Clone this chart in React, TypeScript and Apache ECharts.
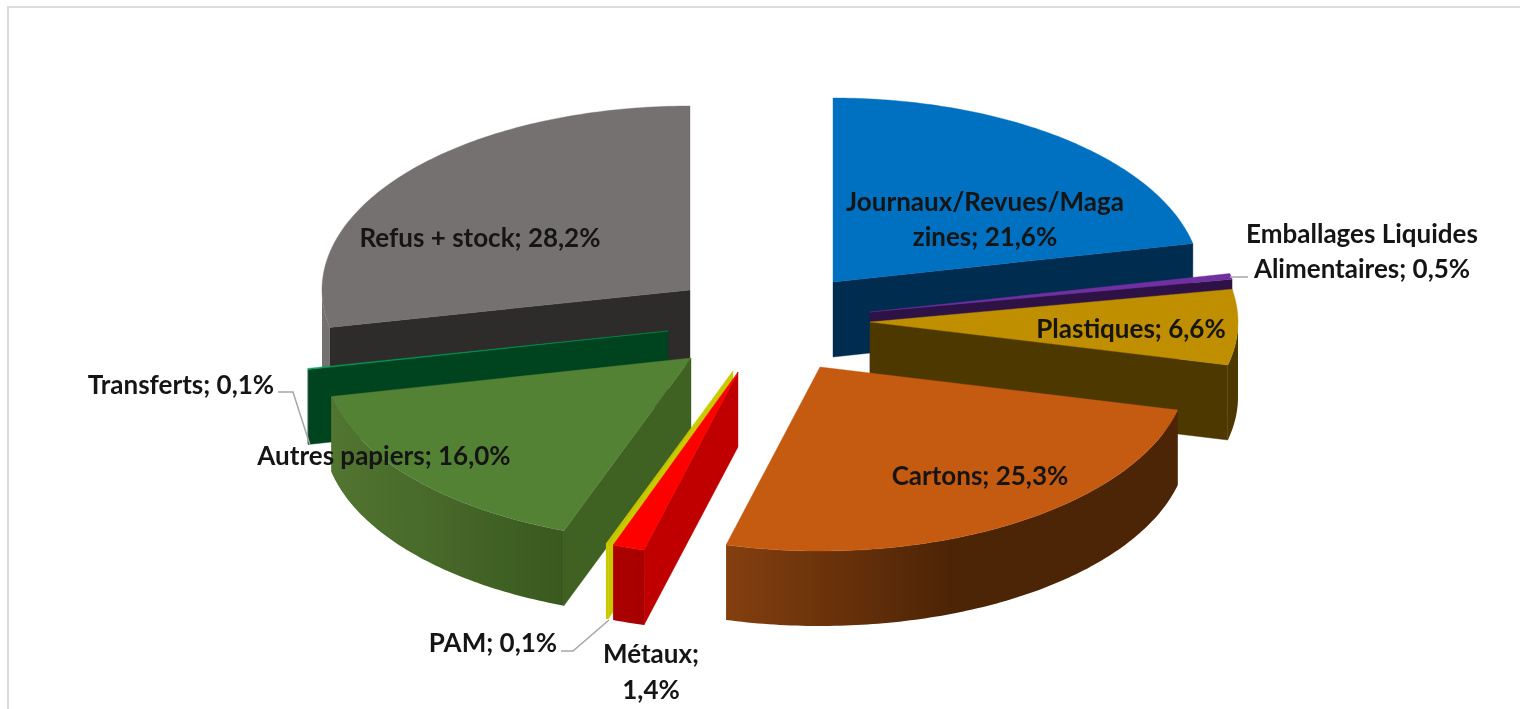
import React, { useEffect, useRef } from "react";
import * as echarts from "echarts";

const categories = [
  "Journaux/Revues/Magazines",
  "Emballages Liquides Alimentaires",
  "Plastiques",
  "Cartons",
  "Métaux",
  "PAM",
  "Autres papiers",
  "Transferts",
  "Refus + stock",
];
const shares = [21.6, 0.5, 6.6, 25.3, 1.4, 0.1, 16.0, 0.1, 28.2];

// layout: exploded centre of each slice, top-face colour, cut-face colour, outer wall gradient
const centres = [[833, 282], [870, 312], [870, 322], [820, 367], [738, 372], [733, 371], [691, 358], [668, 331], [690, 290]];
const topColours = ["#0070c0", "#7030a0", "#bf8f00", "#c55a11", "#ff0000", "#c9c900", "#548235", "#00a05a", "#767171"];
const cutColours = ["#002c4f", "#2e1245", "#4d3800", "#4f2506", "#c00000", "#c9c900", "#3f6122", "#00431f", "#2e2b2b"];
const wallStops = [
  ["#00345c", "#002c4f"],
  ["#2e1245", "#2e1245"],
  ["#4d3800", "#4d3800"],
  ["#843f0f", "#4c2406"],
  ["#aa0000", "#a80000"],
  ["#c9c900", "#c9c900"],
  ["#527531", "#39591f"],
  ["#00431f", "#00431f"],
  ["#767171", "#727070"],
];
const paintOrder = [8, 7, 0, 1, 2, 6, 5, 4, 3];

const RX = 368;
const RY = 184;
const DEPTH = 75;
const TAU = Math.PI * 2;

const cumulative: number[] = [];
shares.reduce((sum, v, i) => {
  cumulative[i] = sum;
  return sum + v;
}, 0);
const total = shares.reduce((a, b) => a + b, 0);

function rim(c: number[], a: number, dy = 0) {
  return [c[0] + RX * Math.sin(a), c[1] - RY * Math.cos(a) + dy];
}
function arc(c: number[], a0: number, a1: number, dy = 0) {
  const n = Math.max(2, Math.ceil(Math.abs(a1 - a0) / 0.015));
  const pts: number[][] = [];
  for (let i = 0; i <= n; i++) pts.push(rim(c, a0 + ((a1 - a0) * i) / n, dy));
  return pts;
}

function renderSlice(_params: any, api: any) {
  const i = api.value(0);
  const c = centres[i];
  const a0 = (cumulative[i] / total) * TAU;
  const a1 = ((cumulative[i] + api.value(1)) / total) * TAU;
  const children: any[] = [];
  const face = (points: number[][], fill: any, stroke: string) => ({
    type: "polygon",
    shape: { points },
    style: { fill, stroke, lineWidth: 0.4 },
  });
  const bottom = [c[0], c[1] + DEPTH];
  if (Math.sin(a0) < -1e-6) {
    const r = rim(c, a0);
    children.push(face([c, r, rim(c, a0, DEPTH), bottom], cutColours[i], cutColours[i]));
  }
  if (Math.sin(a1) > 1e-6) {
    const r = rim(c, a1);
    children.push(face([c, r, rim(c, a1, DEPTH), bottom], cutColours[i], cutColours[i]));
  }
  const w0 = Math.max(a0, Math.PI / 2);
  const w1 = Math.min(a1, (Math.PI * 3) / 2);
  if (w1 > w0) {
    const top = arc(c, w0, w1);
    const low = arc(c, w1, w0, DEPTH);
    const [s0, s1] = wallStops[i];
    const stops = i === 3
      ? [{ offset: 0, color: s0 }, { offset: 0.5, color: s1 }, { offset: 1, color: s1 }]
      : [{ offset: 0, color: s0 }, { offset: 1, color: s1 }];
    children.push({
      type: "polygon",
      shape: { points: top.concat(low) },
      style: { fill: new echarts.graphic.LinearGradient(0, 0, 1, 0, stops) },
    });
  }
  children.push(face([c, ...arc(c, a0, a1)], topColours[i], topColours[i]));
  return { type: "group", children };
}

const fmt = (i: number) => `${shares[i].toFixed(1).replace(".", ",")}%`;
const FONT = "Lato, 'Noto Sans', sans-serif";

function label(lines: string[], x: number, y: number, step = 35) {
  return lines.map((t, k) => ({
    type: "text",
    x,
    y: y + k * step,
    z: 50,
    style: {
      text: t,
      fill: "#151515",
      font: `bold 26px ${FONT}`,
      align: "center",
      verticalAlign: "middle",
    },
  }));
}
function leader(points: number[][]) {
  return {
    type: "polyline",
    z: 40,
    shape: { points },
    style: { stroke: "#a6a6a6", lineWidth: 1.5, fill: "none" },
  };
}

export default function App() {
  const ref = useRef<HTMLDivElement>(null);
  useEffect(() => {
    document.body.style.margin = "0";
    const chart = echarts.init(ref.current!, undefined, { renderer: "svg" });
    chart.setOption({
      animation: false,
      backgroundColor: "#ffffff",
      series: [
        {
          type: "custom",
          coordinateSystem: "none",
          renderItem: renderSlice,
          silent: true,
          data: paintOrder.map((i) => [i, shares[i]]),
        },
      ],
      graphic: [
        { type: "rect", z: 30, shape: { x: 7, y: 6, width: 1513, height: 2 }, style: { fill: "#dcdcdc" } },
        { type: "rect", z: 30, shape: { x: 7, y: 6, width: 2, height: 703 }, style: { fill: "#dcdcdc" } },
        leader([[1230, 277], [1248, 277]]),
        leader([[561, 651], [573, 651], [609, 620]]),
        leader([[278, 392], [293, 392], [310, 445]]),
        ...label(["Journaux/Revues/Maga", `zines; ${fmt(0)}`], 985, 201),
        ...label(["Emballages Liquides", `Alimentaires; ${fmt(1)}`], 1362, 233),
        ...label([`${categories[2]}; ${fmt(2)}`], 1131, 328),
        ...label([`${categories[3]}; ${fmt(3)}`], 980, 475),
        ...label([`${categories[4]};`, fmt(4)], 651, 653, 36),
        ...label([`${categories[5]}; ${fmt(5)}`], 493, 642),
        ...label([`${categories[6]}; ${fmt(6)}`], 384, 455),
        ...label([`${categories[7]}; ${fmt(7)}`], 181, 384),
        ...label([`${categories[8]}; ${fmt(8)}`], 480, 237),
      ],
    });
    return () => chart.dispose();
  }, []);
  return (
    <div
      ref={ref}
      style={{ position: "absolute", left: 0, top: 0, width: 1520, height: 709, filter: "blur(0.5px)" }}
    />
  );
}
